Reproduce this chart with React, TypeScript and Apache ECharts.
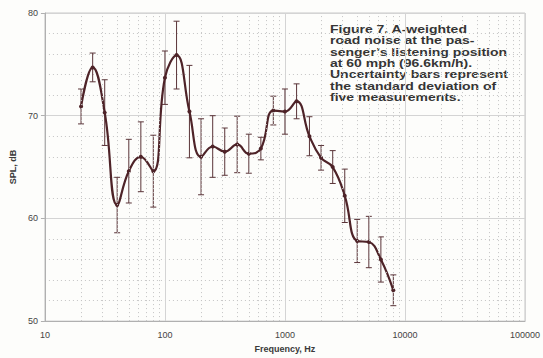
import React, { useEffect, useRef } from "react";
import * as echarts from "echarts";

const frequencies = [20, 25, 31.5, 40, 50, 63, 80, 100, 125, 160, 200, 250, 315, 400, 500, 630, 800, 1000, 1250, 1600, 2000, 2500, 3150, 4000, 5000, 6300, 8000];
const splValues = [70.9, 74.7, 70.3, 61.3, 64.6, 66.0, 64.6, 73.7, 75.9, 70.4, 66.0, 67.0, 66.5, 67.2, 66.3, 66.8, 70.5, 70.4, 71.4, 68.0, 65.9, 65.0, 62.2, 57.8, 57.7, 56.0, 53.0];
const stdDev = [1.7, 1.4, 3.2, 2.7, 3.1, 3.4, 3.5, 2.6, 3.3, 4.5, 3.7, 3.0, 2.3, 2.75, 1.9, 1.1, 1.4, 2.2, 1.7, 1.9, 1.2, 1.6, 2.6, 2.1, 2.5, 2.2, 1.5];
const xTicks = [10, 100, 1000, 10000, 100000];
const yTicks = [50, 60, 70, 80];
const captionLines = [
  "Figure 7. A-weighted",
  "road noise at the pas-",
  "senger\u2019s listening position",
  "at 60 mph (96.6km/h).",
  "Uncertainty bars represent",
  "the standard deviation of",
  "five measurements.",
];

const minorFreqs: number[] = [];
for (let d = 0; d < xTicks.length - 1; d++) {
  for (let m = 2; m <= 9; m++) minorFreqs.push(xTicks[d] * m);
}

const LINE = "#4e2328";
const FONT = '"Liberation Sans", Arial, sans-serif';

export default function App() {
  const ref = useRef<HTMLDivElement>(null);
  useEffect(() => {
    const chart = echarts.init(ref.current!, null, { renderer: "svg" });
    const lineData = frequencies.map((f, i) => [f, splValues[i]]);
    const errData = frequencies.map((f, i) => [f, splValues[i] - stdDev[i], splValues[i] + stdDev[i]]);
    chart.setOption({
      animation: false,
      backgroundColor: "#fdfdfb",
      grid: { left: 43, right: 17, top: 13, bottom: 35, show: true, borderColor: "#c8c8c8", borderWidth: 1 },
      xAxis: {
        type: "log",
        logBase: 10,
        min: xTicks[0],
        max: xTicks[xTicks.length - 1],
        name: "Frequency, Hz",
        nameLocation: "middle",
        nameGap: 16,
        nameTextStyle: { fontFamily: FONT, fontWeight: "bold", fontSize: 9, color: "#3a3a3a" },
        axisLine: { show: true, lineStyle: { color: "#b0b0b0" } },
        axisTick: { show: false },
        axisLabel: {
          fontFamily: FONT,
          fontSize: 9,
          color: "#444",
          margin: 9,
          formatter: (v: number) => String(Math.round(v)),
        },
        splitLine: { show: true, lineStyle: { color: "#d4d4d4", width: 1 } },
      },
      yAxis: {
        type: "value",
        min: yTicks[0],
        max: yTicks[yTicks.length - 1],
        interval: 10,
        name: "SPL, dB",
        nameLocation: "middle",
        nameGap: 24,
        nameTextStyle: { fontFamily: FONT, fontWeight: "bold", fontSize: 9, color: "#3a3a3a" },
        axisLine: { show: true, lineStyle: { color: "#b0b0b0" } },
        axisTick: { show: true, length: 4, lineStyle: { color: "#b0b0b0" } },
        axisLabel: { fontFamily: FONT, fontSize: 9, color: "#444", margin: 7 },
        splitLine: { show: true, lineStyle: { color: "#d4d4d4", width: 1 } },
        minorTick: { show: false, splitNumber: 5 },
        minorSplitLine: { show: true, lineStyle: { color: "#c4c4c4", type: [1, 3], width: 1 } },
      },
      series: [
        {
          type: "line",
          data: [],
          silent: true,
          markLine: {
            silent: true,
            symbol: "none",
            label: { show: false },
            lineStyle: { color: "#c4c4c4", type: [1, 3], width: 1 },
            data: minorFreqs.map((f) => ({ xAxis: f })),
          },
        },
        {
          type: "custom",
          data: errData,
          silent: true,
          z: 3,
          renderItem: (params: any, api: any) => {
            const x = api.value(0);
            const lo = api.coord([x, api.value(1)]);
            const hi = api.coord([x, api.value(2)]);
            const w = 3;
            const style = { stroke: "#5a3438", lineWidth: 1 };
            return {
              type: "group",
              children: [
                { type: "line", shape: { x1: lo[0], y1: lo[1], x2: hi[0], y2: hi[1] }, style },
                { type: "line", shape: { x1: lo[0] - w, y1: lo[1], x2: lo[0] + w, y2: lo[1] }, style },
                { type: "line", shape: { x1: hi[0] - w, y1: hi[1], x2: hi[0] + w, y2: hi[1] }, style },
              ],
            };
          },
        },
        {
          type: "line",
          data: lineData,
          smooth: 0.45,
          symbol: "circle",
          symbolSize: 4,
          z: 4,
          lineStyle: { color: LINE, width: 2.2 },
          itemStyle: { color: LINE },
        },
      ],
      graphic: captionLines.map((t, i) => ({
        type: "text",
        x: 330,
        y: 24 + i * 11.3,
        scaleX: 1.25,
        style: {
          text: t,
          fontFamily: FONT,
          fontWeight: "bold",
          fontSize: 11.2,
          fill: "#353535",
        },
      })),
    });
    return () => chart.dispose();
  }, []);
  return <div ref={ref} style={{ width: 543, height: 358, position: "absolute", left: 0, top: 0 }} />;
}
